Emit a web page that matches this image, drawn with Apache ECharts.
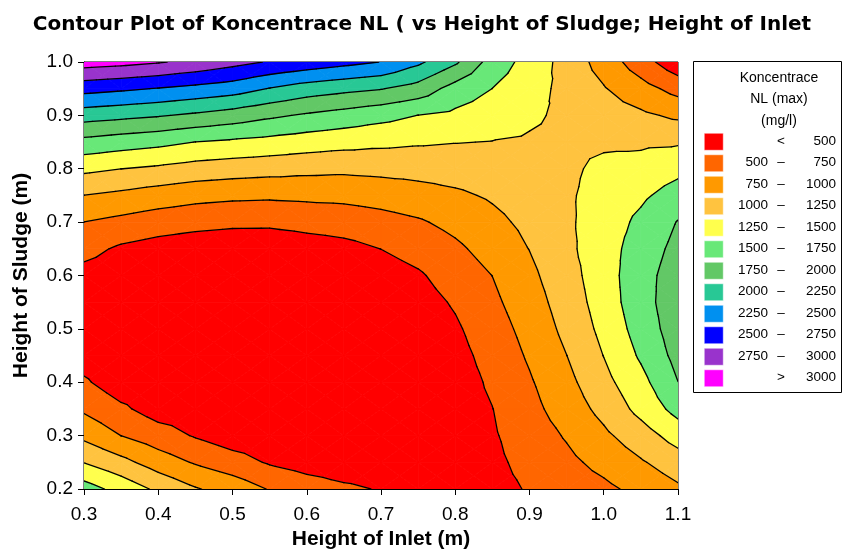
<!DOCTYPE html>
<html>
<head>
<meta charset="utf-8">
<script src="https://cdn.jsdelivr.net/npm/echarts@6/dist/echarts.min.js"></script>
<style>
  html, body { margin: 0; padding: 0; background: #fff; }
  #chart { width: 844px; height: 550px; }
</style>
</head>
<body>
<div id="chart"></div>
<script>
// Height of Inlet (m), one grid column per value
const inletValues = [0.30, 0.35, 0.40, 0.45, 0.50, 0.55, 0.60, 0.65, 0.70, 0.75, 0.80, 0.85, 0.90, 0.95, 1.00, 1.05, 1.10];
// Height of Sludge (m), one grid row per value, top row first
const sludgeValues = [1.00, 0.95, 0.90, 0.85, 0.80, 0.75, 0.70, 0.65, 0.60, 0.55, 0.50, 0.45, 0.40, 0.35, 0.30, 0.25, 0.20];
// Koncentrace NL (max) in mg/l; row r belongs to sludgeValues[r], column c to inletValues[c]
const concRows = [
  [3115, 3077, 3020, 2937, 2833, 2730, 2653, 2576, 2495, 2300, 2040, 1644, 1405, 1158,  895,  610,  330],
  [2590, 2541, 2488, 2430, 2368, 2239, 2129, 2066, 2012, 1900, 1650, 1498, 1342, 1183, 1017,  844,  662],
  [2110, 2067, 2021, 1958, 1885, 1795, 1719, 1653, 1580, 1497, 1446, 1370, 1286, 1206, 1114, 1046,  954],
  [1675, 1618, 1567, 1496, 1458, 1420, 1373, 1336, 1305, 1278, 1257, 1244, 1225, 1200, 1210, 1210, 1221],
  [1305, 1252, 1208, 1152, 1119, 1093, 1068, 1052, 1071, 1087, 1105, 1137, 1172, 1200, 1310, 1340, 1436],
  [ 997,  945,  882,  829,  802,  791,  803,  813,  847,  899,  958, 1030, 1124, 1215, 1347, 1457, 1607],
  [ 749,  683,  620,  577,  552,  551,  585,  613,  660,  722,  818,  935, 1063, 1210, 1372, 1555, 1762],
  [ 578,  462,  398,  360,  335,  321,  377,  424,  502,  596,  704,  843, 1005, 1195, 1391, 1618, 1820],
  [ 418,  370,  320,  290,  260,  245,  290,  330,  380,  468,  616,  752,  944, 1153, 1387, 1658, 1870],
  [ 328,  300,  270,  240,  215,  200,  225,  255,  300,  400,  527,  699,  887, 1113, 1362, 1658, 1890],
  [ 317,  280,  250,  220,  195,  180,  190,  210,  250,  340,  465,  641,  832, 1063, 1317, 1607, 1880],
  [ 387,  300,  270,  230,  200,  180,  175,  185,  225,  300,  420,  585,  781,  998, 1255, 1535, 1830],
  [ 535,  360,  330,  280,  235,  200,  180,  180,  220,  280,  390,  537,  724,  930, 1177, 1423, 1748],
  [ 710,  545,  390,  370,  310,  250,  210,  195,  240,  280,  380,  496,  675,  865, 1074, 1326, 1587],
  [ 942,  748,  609,  480,  370,  340,  280,  250,  290,  300,  380,  474,  621,  772,  951, 1137, 1356],
  [1243, 1076,  880,  726,  604,  475,  400,  370,  370,  330,  390,  449,  570,  690,  826,  975, 1132],
  [1611, 1410, 1200, 1020,  900,  735,  620,  540,  485,  380,  400,  430,  518,  606,  695,  820,  960]
];
// contour levels and the colour of each band between them
const levels = [500, 750, 1000, 1250, 1500, 1750, 2000, 2250, 2500, 2750, 3000];
const bandColors = ['#FF0000', '#FF6600', '#FF9900', '#FFC33F', '#FFFF4D', '#68E878',
                    '#62C866', '#28C895', '#0090F0', '#0000FF', '#9933CC', '#FF00FF'];
const xTicks = [0.3, 0.4, 0.5, 0.6, 0.7, 0.8, 0.9, 1.0, 1.1];
const yTicks = [0.2, 0.3, 0.4, 0.5, 0.6, 0.7, 0.8, 0.9, 1.0];
const legendTitle = ['Koncentrace', 'NL (max)', '(mg/l)'];

// one data item per grid cell: [column, row]
const cells = [];
for (let r = 0; r < sludgeValues.length - 1; r++) {
  for (let c = 0; c < inletValues.length - 1; c++) cells.push([c, r]);
}

function corner(c, r) {
  return { x: inletValues[c], y: sludgeValues[r], v: concRows[r][c] };
}

// a cell split into four triangles around its centre, so values vary linearly inside each
function cellTriangles(c, r) {
  const a = corner(c, r), b = corner(c + 1, r), d = corner(c + 1, r + 1), e = corner(c, r + 1);
  const m = { x: (a.x + b.x) / 2, y: (a.y + e.y) / 2, v: (a.v + b.v + d.v + e.v) / 4 };
  return [[a, b, m], [b, d, m], [d, e, m], [e, a, m]];
}

// a point counts as "above" a level when its value is >= the level
const isAbove = (v, level) => v >= level;

function crossing(p, q, level) {
  const t = (level - p.v) / (q.v - p.v);
  return { x: p.x + t * (q.x - p.x), y: p.y + t * (q.y - p.y), v: level };
}

function clip(poly, level, keepAbove) {
  const out = [];
  for (let n = 0; n < poly.length; n++) {
    const p = poly[n], q = poly[(n + 1) % poly.length];
    const inP = isAbove(p.v, level) === keepAbove;
    const inQ = isAbove(q.v, level) === keepAbove;
    if (inP) out.push(p);
    if (inP !== inQ) out.push(crossing(p, q, level));
  }
  return out;
}

function renderBands(params, api) {
  const c = api.value(0), r = api.value(1);
  const children = [];
  cellTriangles(c, r).forEach(tri => {
    for (let k = 0; k < bandColors.length; k++) {
      let poly = tri;
      if (k > 0) poly = clip(poly, levels[k - 1], true);
      if (poly.length >= 3 && k < levels.length) poly = clip(poly, levels[k], false);
      if (poly.length < 3) continue;
      children.push({
        type: 'polygon',
        shape: { points: poly.map(p => api.coord([p.x, p.y])) },
        style: { fill: bandColors[k], stroke: bandColors[k], lineWidth: 0.8 },
        silent: true
      });
    }
  });
  return { type: 'group', children: children };
}

function renderLines(params, api) {
  const c = api.value(0), r = api.value(1);
  const children = [];
  cellTriangles(c, r).forEach(tri => {
    levels.forEach(level => {
      const pts = [];
      for (let n = 0; n < 3; n++) {
        const p = tri[n], q = tri[(n + 1) % 3];
        if (isAbove(p.v, level) !== isAbove(q.v, level)) {
          const s = crossing(p, q, level);
          pts.push(api.coord([s.x, s.y]));
        }
      }
      if (pts.length === 2) {
        children.push({
          type: 'line',
          shape: { x1: pts[0][0], y1: pts[0][1], x2: pts[1][0], y2: pts[1][1] },
          style: { stroke: '#000', lineWidth: 1.3, lineCap: 'round' },
          silent: true
        });
      }
    });
  });
  return { type: 'group', children: children };
}

// legend panel built from the band list
const sansFont = '"Liberation Sans", Arial, sans-serif';
const legendElems = [{
  type: 'rect', left: 693, top: 61,
  shape: { width: 148, height: 331 },
  style: { fill: '#fff', stroke: '#000', lineWidth: 1 }
}];
legendTitle.forEach((t, i) => {
  legendElems.push({
    type: 'text', x: 779, y: 78 + i * 21.5,
    style: { text: t, font: '14px ' + sansFont, fill: '#000', textAlign: 'center', textVerticalAlign: 'middle' }
  });
});
bandColors.forEach((col, k) => {
  const cy = 141 + k * 21.5;
  legendElems.push({
    type: 'rect', left: 704, top: cy - 8,
    shape: { width: 19, height: 17 },
    style: { fill: col, stroke: '#fff', lineWidth: 0.5 }
  });
  let lo = '', mid = '', hi = '';
  if (k === 0) { mid = '<'; hi = String(levels[0]); }
  else if (k === levels.length) { mid = '>'; hi = String(levels[levels.length - 1]); }
  else { lo = String(levels[k - 1]); mid = '\u2013'; hi = String(levels[k]); }
  const txt = (s, x, align) => legendElems.push({
    type: 'text', x: x, y: cy,
    style: { text: s, font: '13.5px ' + sansFont, fill: '#000', textAlign: align, textVerticalAlign: 'middle' }
  });
  if (lo) txt(lo, 768, 'right');
  txt(mid, 781, 'center');
  txt(hi, 836, 'right');
});

const chart = echarts.init(document.getElementById('chart'), null, { renderer: 'canvas' });
chart.setOption({
  animation: false,
  backgroundColor: '#fff',
  title: {
    text: 'Contour Plot of Koncentrace NL ( vs Height of Sludge; Height of Inlet',
    left: 'center', top: 10,
    textStyle: { fontFamily: '"DejaVu Sans", sans-serif', fontSize: 20, fontWeight: 'bold', color: '#000' }
  },
  grid: {
    left: 84, right: 166, top: 62, bottom: 61,
    containLabel: false, outerBoundsMode: 'none',
    show: true, borderColor: '#000', borderWidth: 1, backgroundColor: 'transparent'
  },
  xAxis: {
    type: 'value', min: 0.3, max: 1.1, interval: 0.1,
    name: 'Height of Inlet (m)', nameLocation: 'middle', nameGap: 38,
    nameTextStyle: { fontFamily: sansFont, fontSize: 21, fontWeight: 'bold', color: '#000' },
    axisLine: { lineStyle: { color: '#000', width: 1 } },
    axisTick: { length: 6, lineStyle: { color: '#000' } },
    axisLabel: { fontFamily: sansFont, fontSize: 19, color: '#000', margin: 16,
      formatter: v => xTicks.find(t => Math.abs(t - v) < 1e-6).toFixed(1) },
    splitLine: { show: false }
  },
  yAxis: {
    type: 'value', min: 0.2, max: 1.0, interval: 0.1,
    name: 'Height of Sludge (m)', nameLocation: 'middle', nameGap: 52,
    nameTextStyle: { fontFamily: sansFont, fontSize: 21, fontWeight: 'bold', color: '#000' },
    axisLine: { lineStyle: { color: '#000', width: 1 } },
    axisTick: { length: 6, lineStyle: { color: '#000' } },
    axisLabel: { fontFamily: sansFont, fontSize: 19, color: '#000', margin: 11,
      formatter: v => yTicks.find(t => Math.abs(t - v) < 1e-6).toFixed(1) },
    splitLine: { show: false }
  },
  series: [
    { type: 'custom', name: 'bands', data: cells, renderItem: renderBands, z: 1, silent: true, clip: true },
    { type: 'custom', name: 'contours', data: cells, renderItem: renderLines, z: 2, silent: true, clip: true }
  ],
  graphic: legendElems
});
</script>
</body>
</html>
